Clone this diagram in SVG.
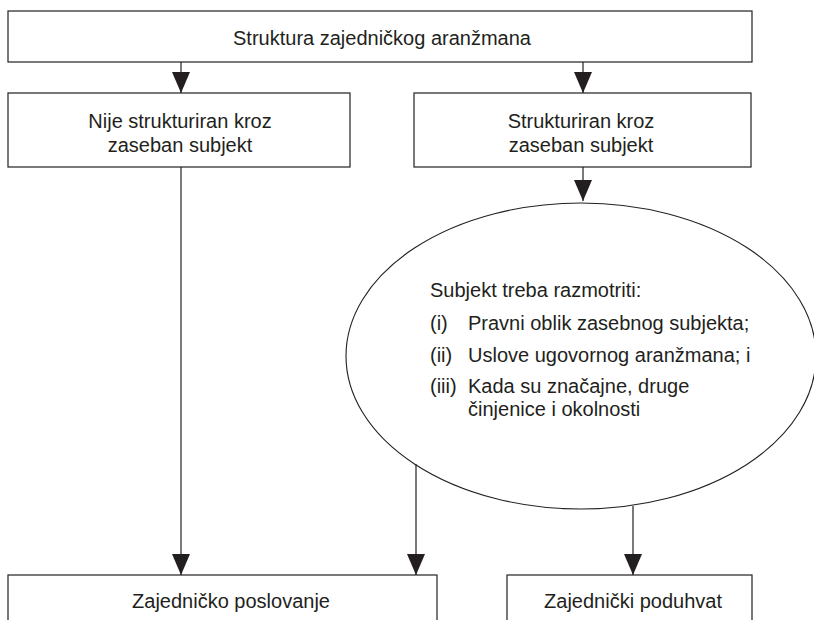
<svg xmlns="http://www.w3.org/2000/svg" width="814" height="620" viewBox="0 0 814 620">
  <defs>
    <marker id="arrow" viewBox="0 0 21 18" refX="21" refY="9" markerWidth="21" markerHeight="18" markerUnits="userSpaceOnUse" orient="auto">
      <path d="M0,0 L21,9 L0,18 z" fill="#231f20"/>
    </marker>
    <style>
      .box { fill: #ffffff; stroke: #231f20; stroke-width: 1.2; }
      .ell { fill: #ffffff; stroke: #231f20; stroke-width: 1.1; }
      .lbl { font-family: "Liberation Sans", Arial, sans-serif; font-size: 20px; fill: #231f20; text-anchor: middle; }
      .etxt { font-family: "Liberation Sans", Arial, sans-serif; font-size: 20px; fill: #231f20; }
      .conn { stroke: #231f20; stroke-width: 1.2; fill: none; marker-end: url(#arrow); }
    </style>
  </defs>
  <rect width="814" height="620" fill="#ffffff"/>

  <g id="node-top">
    <rect class="box" x="8" y="11" width="744" height="51"/>
    <text class="lbl" x="382" y="45">Struktura zajedničkog aranžmana</text>
  </g>

  <g id="node-not-structured">
    <rect class="box" x="8" y="93" width="342" height="74"/>
    <text class="lbl" x="180" y="128">Nije strukturiran kroz</text>
    <text class="lbl" x="180" y="152">zaseban subjekt</text>
  </g>

  <g id="node-structured">
    <rect class="box" x="414" y="93" width="337" height="74"/>
    <text class="lbl" x="581" y="128">Strukturiran kroz</text>
    <text class="lbl" x="581" y="152">zaseban subjekt</text>
  </g>

  <g id="node-consider">
    <ellipse class="ell" cx="581" cy="356" rx="235" ry="153"/>
    <text class="etxt" x="430" y="297">Subjekt treba razmotriti:</text>
    <text class="etxt" x="430" y="330">(i)</text>
    <text class="etxt" x="468" y="330">Pravni oblik zasebnog subjekta;</text>
    <text class="etxt" x="430" y="362">(ii)</text>
    <text class="etxt" x="468" y="362">Uslove ugovornog aranžmana; i</text>
    <text class="etxt" x="430" y="393">(iii)</text>
    <text class="etxt" x="468" y="393">Kada su značajne, druge</text>
    <text class="etxt" x="468" y="416">činjenice i okolnosti</text>
  </g>

  <g id="node-joint-operation">
    <rect class="box" x="8" y="575" width="429" height="60"/>
    <text class="lbl" x="231" y="608">Zajedničko poslovanje</text>
  </g>

  <g id="node-joint-venture">
    <rect class="box" x="507" y="575" width="245" height="60"/>
    <text class="lbl" x="633" y="608">Zajednički poduhvat</text>
  </g>

  <g id="connectors">
    <line class="conn" x1="181" y1="62" x2="181" y2="93"/>
    <line class="conn" x1="583" y1="62" x2="583" y2="93"/>
    <line class="conn" x1="583" y1="167" x2="583" y2="201"/>
    <line class="conn" x1="181" y1="167" x2="181" y2="575"/>
    <line class="conn" x1="416" y1="464" x2="416" y2="575"/>
    <line class="conn" x1="633" y1="506" x2="633" y2="575"/>
  </g>
</svg>
